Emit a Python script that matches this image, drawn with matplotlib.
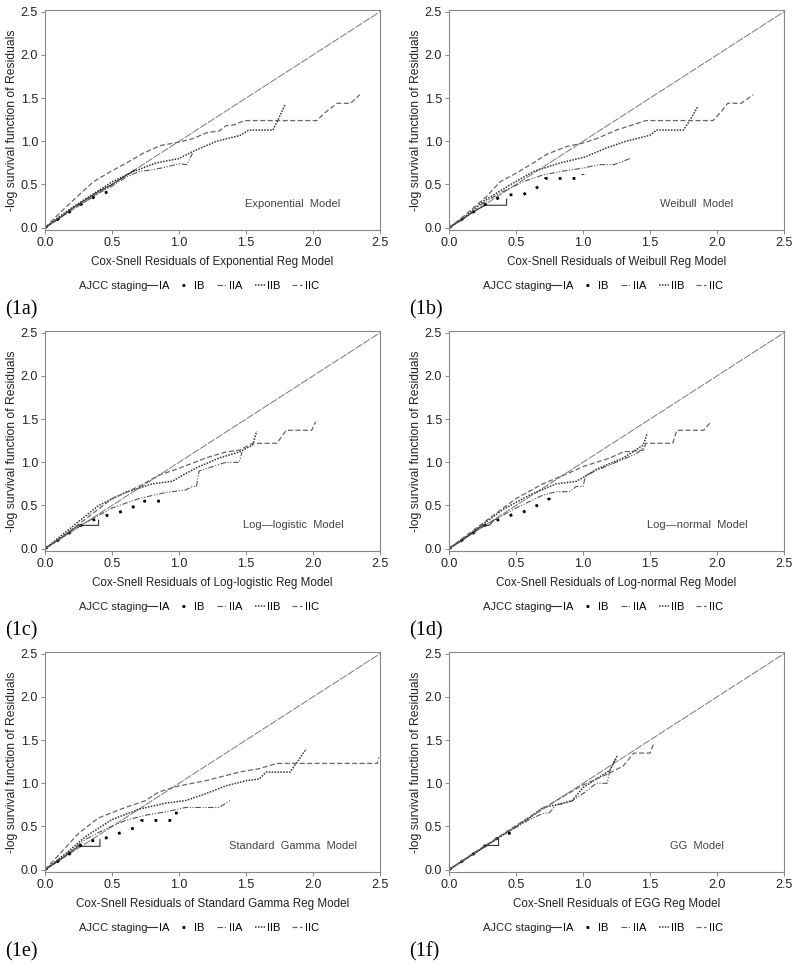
import matplotlib
matplotlib.use('Agg')
import matplotlib.pyplot as plt
from matplotlib.lines import Line2D

plt.rcParams['font.family'] = ['Liberation Sans', 'DejaVu Sans']

# ---- data: (x, y), one pair of lists per stage per panel ----
# (1a) Exponential
exp_ia_x = [0, 0.1, 0.2, 0.3, 0.4, 0.5, 0.6, 0.67]
exp_ia_y = [0, 0.1, 0.22, 0.32, 0.42, 0.5, 0.6, 0.67]
exp_ib_x = [0, 0.1, 0.2, 0.3, 0.4, 0.48, 0.49]
exp_ib_y = [0, 0.1, 0.2, 0.3, 0.38, 0.42, 0.45]
exp_iia_x = [0, 0.1, 0.2, 0.3, 0.4, 0.5, 0.6, 0.7, 0.8, 0.9, 1.0, 1.06, 1.1]
exp_iia_y = [0, 0.11, 0.22, 0.3, 0.4, 0.48, 0.58, 0.65, 0.67, 0.7, 0.74, 0.73, 0.86]
exp_iib_x = [0, 0.1, 0.2, 0.3, 0.5, 0.66, 0.83, 1.0, 1.1, 1.28, 1.46, 1.52, 1.7, 1.74, 1.79]
exp_iib_y = [0, 0.12, 0.23, 0.33, 0.53, 0.65, 0.75, 0.8, 0.88, 1.0, 1.07, 1.13, 1.13, 1.25, 1.42]
exp_iic_x = [0, 0.11, 0.24, 0.36, 0.49, 0.61, 0.73, 0.86, 1.0, 1.1, 1.21, 1.3, 1.35, 1.41, 1.49, 2.03, 2.08, 2.18, 2.28, 2.35]
exp_iic_y = [0, 0.17, 0.36, 0.53, 0.65, 0.75, 0.86, 0.95, 0.99, 1.03, 1.1, 1.12, 1.18, 1.19, 1.24, 1.24, 1.32, 1.44, 1.44, 1.54]

# (1b) Weibull
wei_ia_x = [0, 0.1, 0.2, 0.27, 0.43, 0.43]
wei_ia_y = [0, 0.1, 0.2, 0.26, 0.26, 0.33]
wei_ib_x = [0, 0.1, 0.2, 0.3, 0.38, 0.45, 0.55, 0.6, 0.7, 0.72, 1.0, 1.0]
wei_ib_y = [0, 0.1, 0.2, 0.3, 0.35, 0.38, 0.38, 0.42, 0.5, 0.57, 0.57, 0.62]
wei_iia_x = [0, 0.1, 0.25, 0.38, 0.55, 0.7, 0.83, 1.0, 1.12, 1.23, 1.3, 1.35]
wei_iia_y = [0, 0.09, 0.28, 0.4, 0.53, 0.61, 0.65, 0.69, 0.73, 0.73, 0.77, 0.8]
wei_iib_x = [0, 0.1, 0.25, 0.45, 0.63, 0.83, 1.02, 1.17, 1.32, 1.5, 1.55, 1.75, 1.8, 1.86]
wei_iib_y = [0, 0.1, 0.3, 0.49, 0.65, 0.75, 0.82, 0.92, 1.0, 1.07, 1.13, 1.13, 1.25, 1.41]
wei_iic_x = [0, 0.1, 0.28, 0.38, 0.5, 0.63, 0.73, 0.88, 1.0, 1.1, 1.25, 1.37, 1.47, 1.97, 2.03, 2.08, 2.18, 2.27]
wei_iic_y = [0, 0.12, 0.36, 0.53, 0.63, 0.75, 0.85, 0.94, 0.98, 1.03, 1.13, 1.19, 1.24, 1.24, 1.34, 1.44, 1.44, 1.54]

# (1c) Log-logistic
llg_ia_x = [0, 0.1, 0.22, 0.25, 0.4, 0.4]
llg_ia_y = [0, 0.1, 0.24, 0.27, 0.27, 0.33]
llg_ib_x = [0, 0.1, 0.2, 0.3, 0.45, 0.55, 0.65, 0.7, 0.88, 0.88]
llg_ib_y = [0, 0.1, 0.2, 0.3, 0.38, 0.42, 0.47, 0.55, 0.55, 0.62]
llg_iia_x = [0, 0.1, 0.3, 0.5, 0.7, 0.9, 1.05, 1.1, 1.13, 1.15, 1.35, 1.45, 1.47]
llg_iia_y = [0, 0.1, 0.3, 0.47, 0.58, 0.65, 0.68, 0.72, 0.72, 0.9, 1.0, 1.0, 1.12]
llg_iib_x = [0, 0.2, 0.4, 0.6, 0.8, 0.95, 1.05, 1.15, 1.3, 1.45, 1.55, 1.58]
llg_iib_y = [0, 0.25, 0.5, 0.65, 0.75, 0.78, 0.87, 0.95, 1.05, 1.12, 1.2, 1.36]
llg_iic_x = [0, 0.2, 0.5, 0.7, 0.85, 1.0, 1.2, 1.35, 1.45, 1.55, 1.73, 1.8, 1.99, 2.02]
llg_iic_y = [0, 0.22, 0.58, 0.72, 0.85, 0.93, 1.05, 1.12, 1.14, 1.22, 1.22, 1.37, 1.37, 1.47]

# (1d) Log-normal
lnm_ia_x = [0, 0.1, 0.25, 0.3, 0.33]
lnm_ia_y = [0, 0.1, 0.27, 0.27, 0.32]
lnm_ib_x = [0, 0.1, 0.2, 0.3, 0.4, 0.5, 0.55, 0.6, 0.7, 0.75, 0.76]
lnm_ib_y = [0, 0.1, 0.2, 0.3, 0.35, 0.41, 0.42, 0.46, 0.53, 0.58, 0.66]
lnm_iia_x = [0, 0.1, 0.3, 0.5, 0.7, 0.8, 0.9, 0.95, 1.0, 1.02, 1.2, 1.4, 1.47]
lnm_iia_y = [0, 0.1, 0.3, 0.47, 0.62, 0.66, 0.66, 0.72, 0.72, 0.85, 0.97, 1.1, 1.2]
lnm_iib_x = [0, 0.2, 0.4, 0.6, 0.8, 0.95, 1.03, 1.1, 1.3, 1.45, 1.48]
lnm_iib_y = [0, 0.22, 0.45, 0.62, 0.75, 0.78, 0.85, 0.92, 1.05, 1.2, 1.34]
lnm_iic_x = [0, 0.1, 0.3, 0.5, 0.7, 0.9, 1.0, 1.2, 1.3, 1.45, 1.47, 1.67, 1.7, 1.9, 1.95]
lnm_iic_y = [0, 0.12, 0.35, 0.58, 0.75, 0.88, 0.95, 1.05, 1.12, 1.14, 1.22, 1.22, 1.37, 1.37, 1.46]

# (1e) Standard Gamma
gam_ia_x = [0, 0.1, 0.25, 0.41, 0.41]
gam_ia_y = [0, 0.1, 0.27, 0.27, 0.35]
gam_ib_x = [0, 0.1, 0.2, 0.3, 0.4, 0.5, 0.6, 0.7, 0.72, 0.98, 0.98]
gam_ib_y = [0, 0.1, 0.2, 0.33, 0.34, 0.39, 0.45, 0.5, 0.57, 0.57, 0.7]
gam_iia_x = [0, 0.15, 0.3, 0.45, 0.6, 0.75, 0.9, 1.05, 1.3, 1.38]
gam_iia_y = [0, 0.17, 0.35, 0.47, 0.57, 0.63, 0.67, 0.72, 0.72, 0.8]
gam_iib_x = [0, 0.15, 0.3, 0.5, 0.7, 0.9, 1.05, 1.2, 1.35, 1.5, 1.6, 1.65, 1.83, 1.95]
gam_iib_y = [0, 0.18, 0.38, 0.58, 0.7, 0.77, 0.8, 0.88, 0.97, 1.03, 1.05, 1.13, 1.13, 1.4]
gam_iic_x = [0, 0.12, 0.25, 0.4, 0.6, 0.75, 0.85, 1.0, 1.2, 1.35, 1.45, 1.6, 1.73, 2.48, 2.49]
gam_iic_y = [0, 0.2, 0.42, 0.6, 0.72, 0.8, 0.9, 0.97, 1.03, 1.09, 1.13, 1.17, 1.23, 1.23, 1.3]

# (1f) GG
gg_ia_x = [0, 0.1, 0.28, 0.37, 0.37]
gg_ia_y = [0, 0.1, 0.28, 0.28, 0.35]
gg_ib_x = [0, 0.1, 0.2, 0.3, 0.4, 0.47, 0.5]
gg_ib_y = [0, 0.1, 0.2, 0.31, 0.4, 0.43, 0.44]
gg_iia_x = [0, 0.2, 0.4, 0.6, 0.7, 0.75, 0.8, 0.9, 1.0, 1.1, 1.18, 1.2, 1.25]
gg_iia_y = [0, 0.2, 0.4, 0.58, 0.65, 0.66, 0.75, 0.78, 0.88, 1.0, 1.0, 1.15, 1.3]
gg_iib_x = [0, 0.2, 0.4, 0.6, 0.7, 0.8, 0.92, 1.0, 1.1, 1.2, 1.26]
gg_iib_y = [0, 0.2, 0.4, 0.6, 0.72, 0.75, 0.8, 0.95, 1.05, 1.15, 1.33]
gg_iic_x = [0, 0.2, 0.4, 0.6, 0.8, 1.0, 1.1, 1.2, 1.3, 1.38, 1.5, 1.53]
gg_iic_y = [0, 0.21, 0.41, 0.61, 0.8, 0.98, 1.05, 1.12, 1.2, 1.35, 1.35, 1.47]

stages = ['IA', 'IB', 'IIA', 'IIB', 'IIC']
ref_line = [0, 2.5]
ticks = [0.0, 0.5, 1.0, 1.5, 2.0, 2.5]

panels = [
    ('Exponential', 'Exponential  Model', '(1a)',
     [(exp_ia_x, exp_ia_y), (exp_ib_x, exp_ib_y), (exp_iia_x, exp_iia_y), (exp_iib_x, exp_iib_y), (exp_iic_x, exp_iic_y)]),
    ('Weibull', 'Weibull  Model', '(1b)',
     [(wei_ia_x, wei_ia_y), (wei_ib_x, wei_ib_y), (wei_iia_x, wei_iia_y), (wei_iib_x, wei_iib_y), (wei_iic_x, wei_iic_y)]),
    ('Log-logistic', 'Log\u2014logistic  Model', '(1c)',
     [(llg_ia_x, llg_ia_y), (llg_ib_x, llg_ib_y), (llg_iia_x, llg_iia_y), (llg_iib_x, llg_iib_y), (llg_iic_x, llg_iic_y)]),
    ('Log-normal', 'Log\u2014normal  Model', '(1d)',
     [(lnm_ia_x, lnm_ia_y), (lnm_ib_x, lnm_ib_y), (lnm_iia_x, lnm_iia_y), (lnm_iib_x, lnm_iib_y), (lnm_iic_x, lnm_iic_y)]),
    ('Standard Gamma', 'Standard  Gamma  Model', '(1e)',
     [(gam_ia_x, gam_ia_y), (gam_ib_x, gam_ib_y), (gam_iia_x, gam_iia_y), (gam_iib_x, gam_iib_y), (gam_iic_x, gam_iic_y)]),
    ('EGG', 'GG  Model', '(1f)',
     [(gg_ia_x, gg_ia_y), (gg_ib_x, gg_ib_y), (gg_iia_x, gg_iia_y), (gg_iib_x, gg_iib_y), (gg_iic_x, gg_iic_y)]),
]

# line styles per stage (grayscale SAS look)
styles = [
    dict(color='#333333', lw=0.8, ls='-'),
    dict(color='#000000', lw=2.0, ls=(0, (1.0, 4.0))),
    dict(color='#555555', lw=0.8, ls=(0, (5, 1.5, 1, 1.5, 1, 1.5))),
    dict(color='#333333', lw=1.1, ls=(0, (1, 0.9))),
    dict(color='#666666', lw=0.9, ls=(0, (4, 2))),
]

W, H = 800, 971
fig = plt.figure(figsize=(W / 100, H / 100), dpi=100, facecolor='white')

col_left = [45, 449]
row_top = [10, 331, 652]
ax_w, ax_h = 335, 220

for i, (model, inset, tag, series) in enumerate(panels):
    r, c = divmod(i, 2)
    l = col_left[c]
    t = row_top[r]
    ax = fig.add_axes([l / W, 1 - (t + ax_h) / H, ax_w / W, ax_h / H])

    ax.plot(ref_line, ref_line, color='#777777', lw=0.7, ls=(0, (8, 1.5)))
    for (xs, ys), st in zip(series, styles):
        ax.plot(xs, ys, color=st['color'], lw=st['lw'], ls=st['ls'])

    ax.set_xlim(0, 2.5)
    ax.set_ylim(-0.027, 2.52)
    ax.set_xticks(ticks)
    ax.set_yticks(ticks)
    ax.set_xticklabels([f'{v:.1f}' for v in ticks])
    ax.set_yticklabels([f'{v:.1f}' for v in ticks])
    ax.tick_params(direction='out', length=3, width=0.6, colors='#777777',
                   labelcolor='#222222', labelsize=9, pad=2)
    for sp in ax.spines.values():
        sp.set_color('#888888')
        sp.set_linewidth(0.8)

    ax.set_xlabel(f'Cox-Snell Residuals of {model} Reg Model', fontsize=8.4,
                  color='#222222', labelpad=5)
    ax.set_ylabel('-log survival function of Residuals', fontsize=8.7,
                  color='#222222', labelpad=2)

    ax.text(1.85, 0.27, inset, fontsize=8, color='#444444', ha='center', va='center')

    # legend row under the x label: caption text, then the five stage handles
    ax.text(0.305, -0.255, 'AJCC staging', transform=ax.transAxes, fontsize=8,
            color='#222222', ha='right', va='center')
    handles = [Line2D([], [], color=st['color'], lw=st['lw'], ls=st['ls']) for st in styles]
    ax.legend(handles, stages, ncol=5, loc='center left', bbox_to_anchor=(0.305, -0.255),
              frameon=False, fontsize=8, handlelength=0.9, handletextpad=0.2,
              columnspacing=1.1, borderaxespad=0, borderpad=0)

    fig.text((l - 40) / W, 1 - (t + ax_h + 80) / H, tag, fontsize=14.5,
             family=['Liberation Serif', 'DejaVu Serif'], ha='left', va='center')

fig.savefig('out.png', dpi=100, facecolor='white')
